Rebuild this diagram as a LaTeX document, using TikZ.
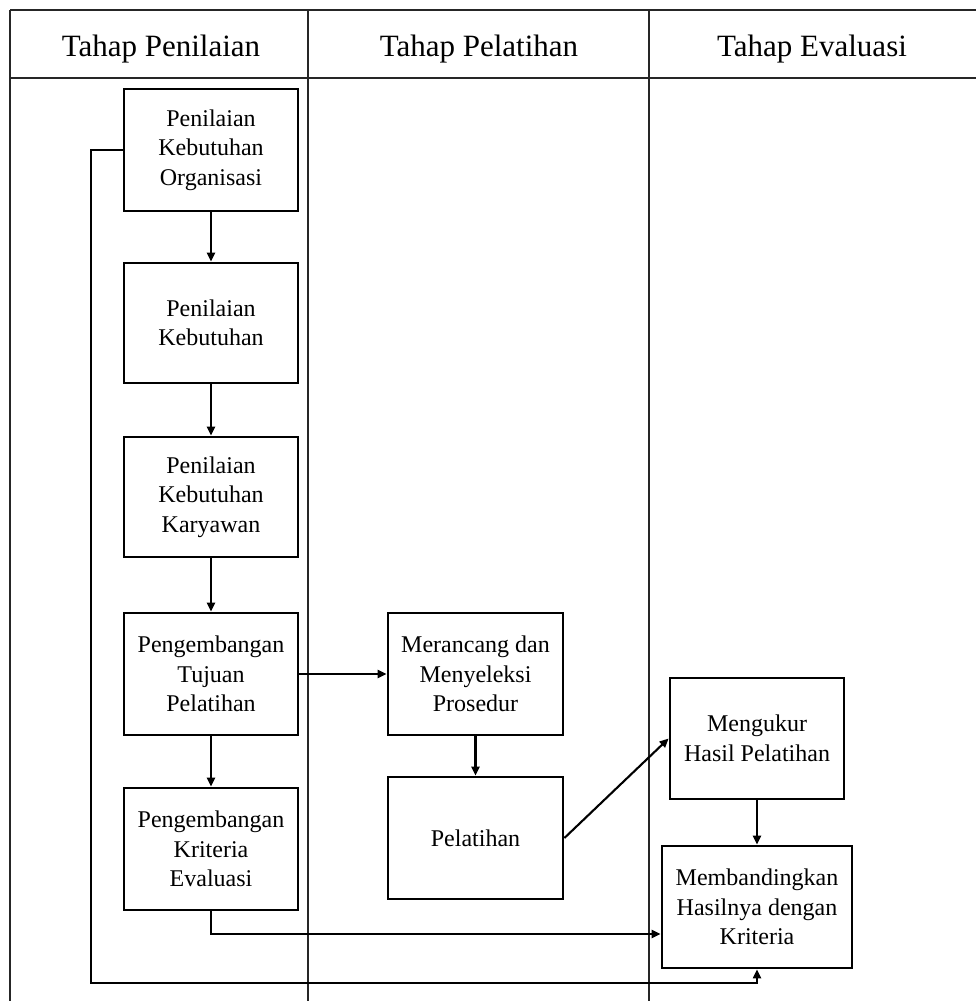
\documentclass[tikz,border=0pt]{standalone}
\usepackage{fontspec}
\setmainfont{Liberation Serif}
\usetikzlibrary{arrows.meta}
\begin{document}
\begin{tikzpicture}[x=1pt,y=-1pt,
  tline/.style={line width=1.1pt, draw=black!85},
  box/.style={draw, line width=2.8pt, inner sep=0pt, align=center,
    minimum width=174pt, minimum height=122pt,
    font=\fontsize{24}{29.5}\selectfont},
  head/.style={anchor=base, font=\fontsize{31}{36}\selectfont},
  conn/.style={line width=2.1pt, -{Triangle[length=9pt,width=8pt]}},
  plain/.style={line width=2.1pt}]
\useasboundingbox (0,0) rectangle (976,1001);
% table
\draw[tline] (10,10) -- (976,10);
\draw[tline] (10,78) -- (976,78);
\draw[tline] (10,10) -- (10,1001);
\draw[tline] (308,10) -- (308,1001);
\draw[tline] (649,10) -- (649,1001);
\node[head] (h1) at (161,56) {Tahap Penilaian};
\node[head] (h2) at (479,56) {Tahap Pelatihan};
\node[head] (h3) at (812,56) {Tahap Evaluasi};
% boxes
\node[box] (b1) at (211,150) {Penilaian\\Kebutuhan\\Organisasi};
\node[box, minimum height=120pt] (b2) at (211,323) {Penilaian\\Kebutuhan};
\node[box, minimum height=120pt] (b3) at (211,497) {Penilaian\\Kebutuhan\\Karyawan};
\node[box] (b4) at (211,674) {Pengembangan\\Tujuan\\Pelatihan};
\node[box] (b5) at (211,849) {Pengembangan\\Kriteria\\Evaluasi};
\node[box, minimum width=175pt] (m1) at (475.5,674) {Merancang dan\\Menyeleksi\\Prosedur};
\node[box, minimum width=175pt] (p1) at (475.5,838) {Pelatihan};
\node[box, minimum height=121pt] (e1) at (757,738.5) {Mengukur\\Hasil Pelatihan};
\node[box, minimum width=190pt] (e2) at (757,907) {Membandingkan\\Hasilnya dengan\\Kriteria};
% connectors
\draw[conn] (b1) -- (b2);
\draw[conn] (b2) -- (b3);
\draw[conn] (b3) -- (b4);
\draw[conn] (b4) -- (b5);
\draw[conn] (b4.east) -- (m1.west);
\draw[conn] (m1) -- (p1);
\draw[conn] (p1.east) -- (e1.west);
\draw[conn] (e1) -- (e2);
\draw[conn] (b5.south) |- ([yshift=-27pt]e2.west);
\coordinate (lp) at (91,983);
\draw[conn] (b1.west) -| (lp) -| (e2.south);
\end{tikzpicture}
\end{document}
